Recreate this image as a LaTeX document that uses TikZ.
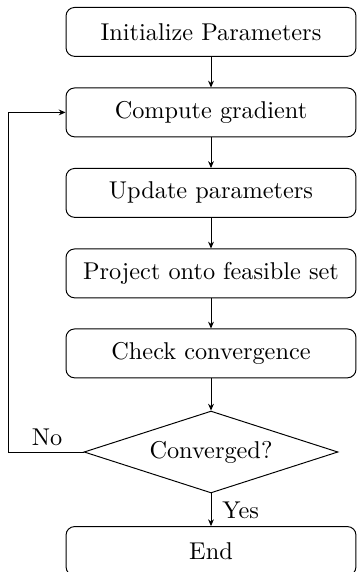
\documentclass[tikz,border=0pt]{standalone}
\usetikzlibrary{shapes.geometric,arrows.meta}
\begin{document}
\begin{tikzpicture}[x=0.4115pt,y=-0.4115pt,
  stepbox/.style={draw, rounded corners=3.5pt, minimum width=119.3pt,
    minimum height=20.1pt, inner sep=2pt},
  decide/.style={draw, diamond, aspect=3.1, inner sep=1pt,
    minimum width=104.5pt, minimum height=33.7pt},
  arr/.style={-{Stealth[length=2.8pt,width=2.4pt]}},
  lbl/.style={inner sep=0pt}]
\useasboundingbox (0,0) rectangle (357,572);
\node[stepbox] (init) at (211,31.9) {Initialize Parameters};
\node[stepbox] (grad) at (211,112.4) {Compute gradient};
\node[stepbox] (upd)  at (211,192.9) {Update parameters};
\node[stepbox] (proj) at (211,273.4) {Project onto feasible set};
\node[stepbox] (chk)  at (211,353.4) {Check convergence};
\node[decide]  (conv) at (211,452) {Converged?};
\node[stepbox] (fin)  at (211,551) {End};
\coordinate (loop) at (8,452);
\draw[arr] (init) -- (grad);
\draw[arr] (grad) -- (upd);
\draw[arr] (upd) -- (proj);
\draw[arr] (proj) -- (chk);
\draw[arr] (chk) -- (conv);
\draw[arr] (conv) -- (fin);
\draw[arr] (conv.west) -- (loop) |- (grad.west);
\node[lbl] (no) at (47,437.5) {No};
\node[lbl, anchor=west] (yes) at (222,510) {Yes};
\end{tikzpicture}
\end{document}
